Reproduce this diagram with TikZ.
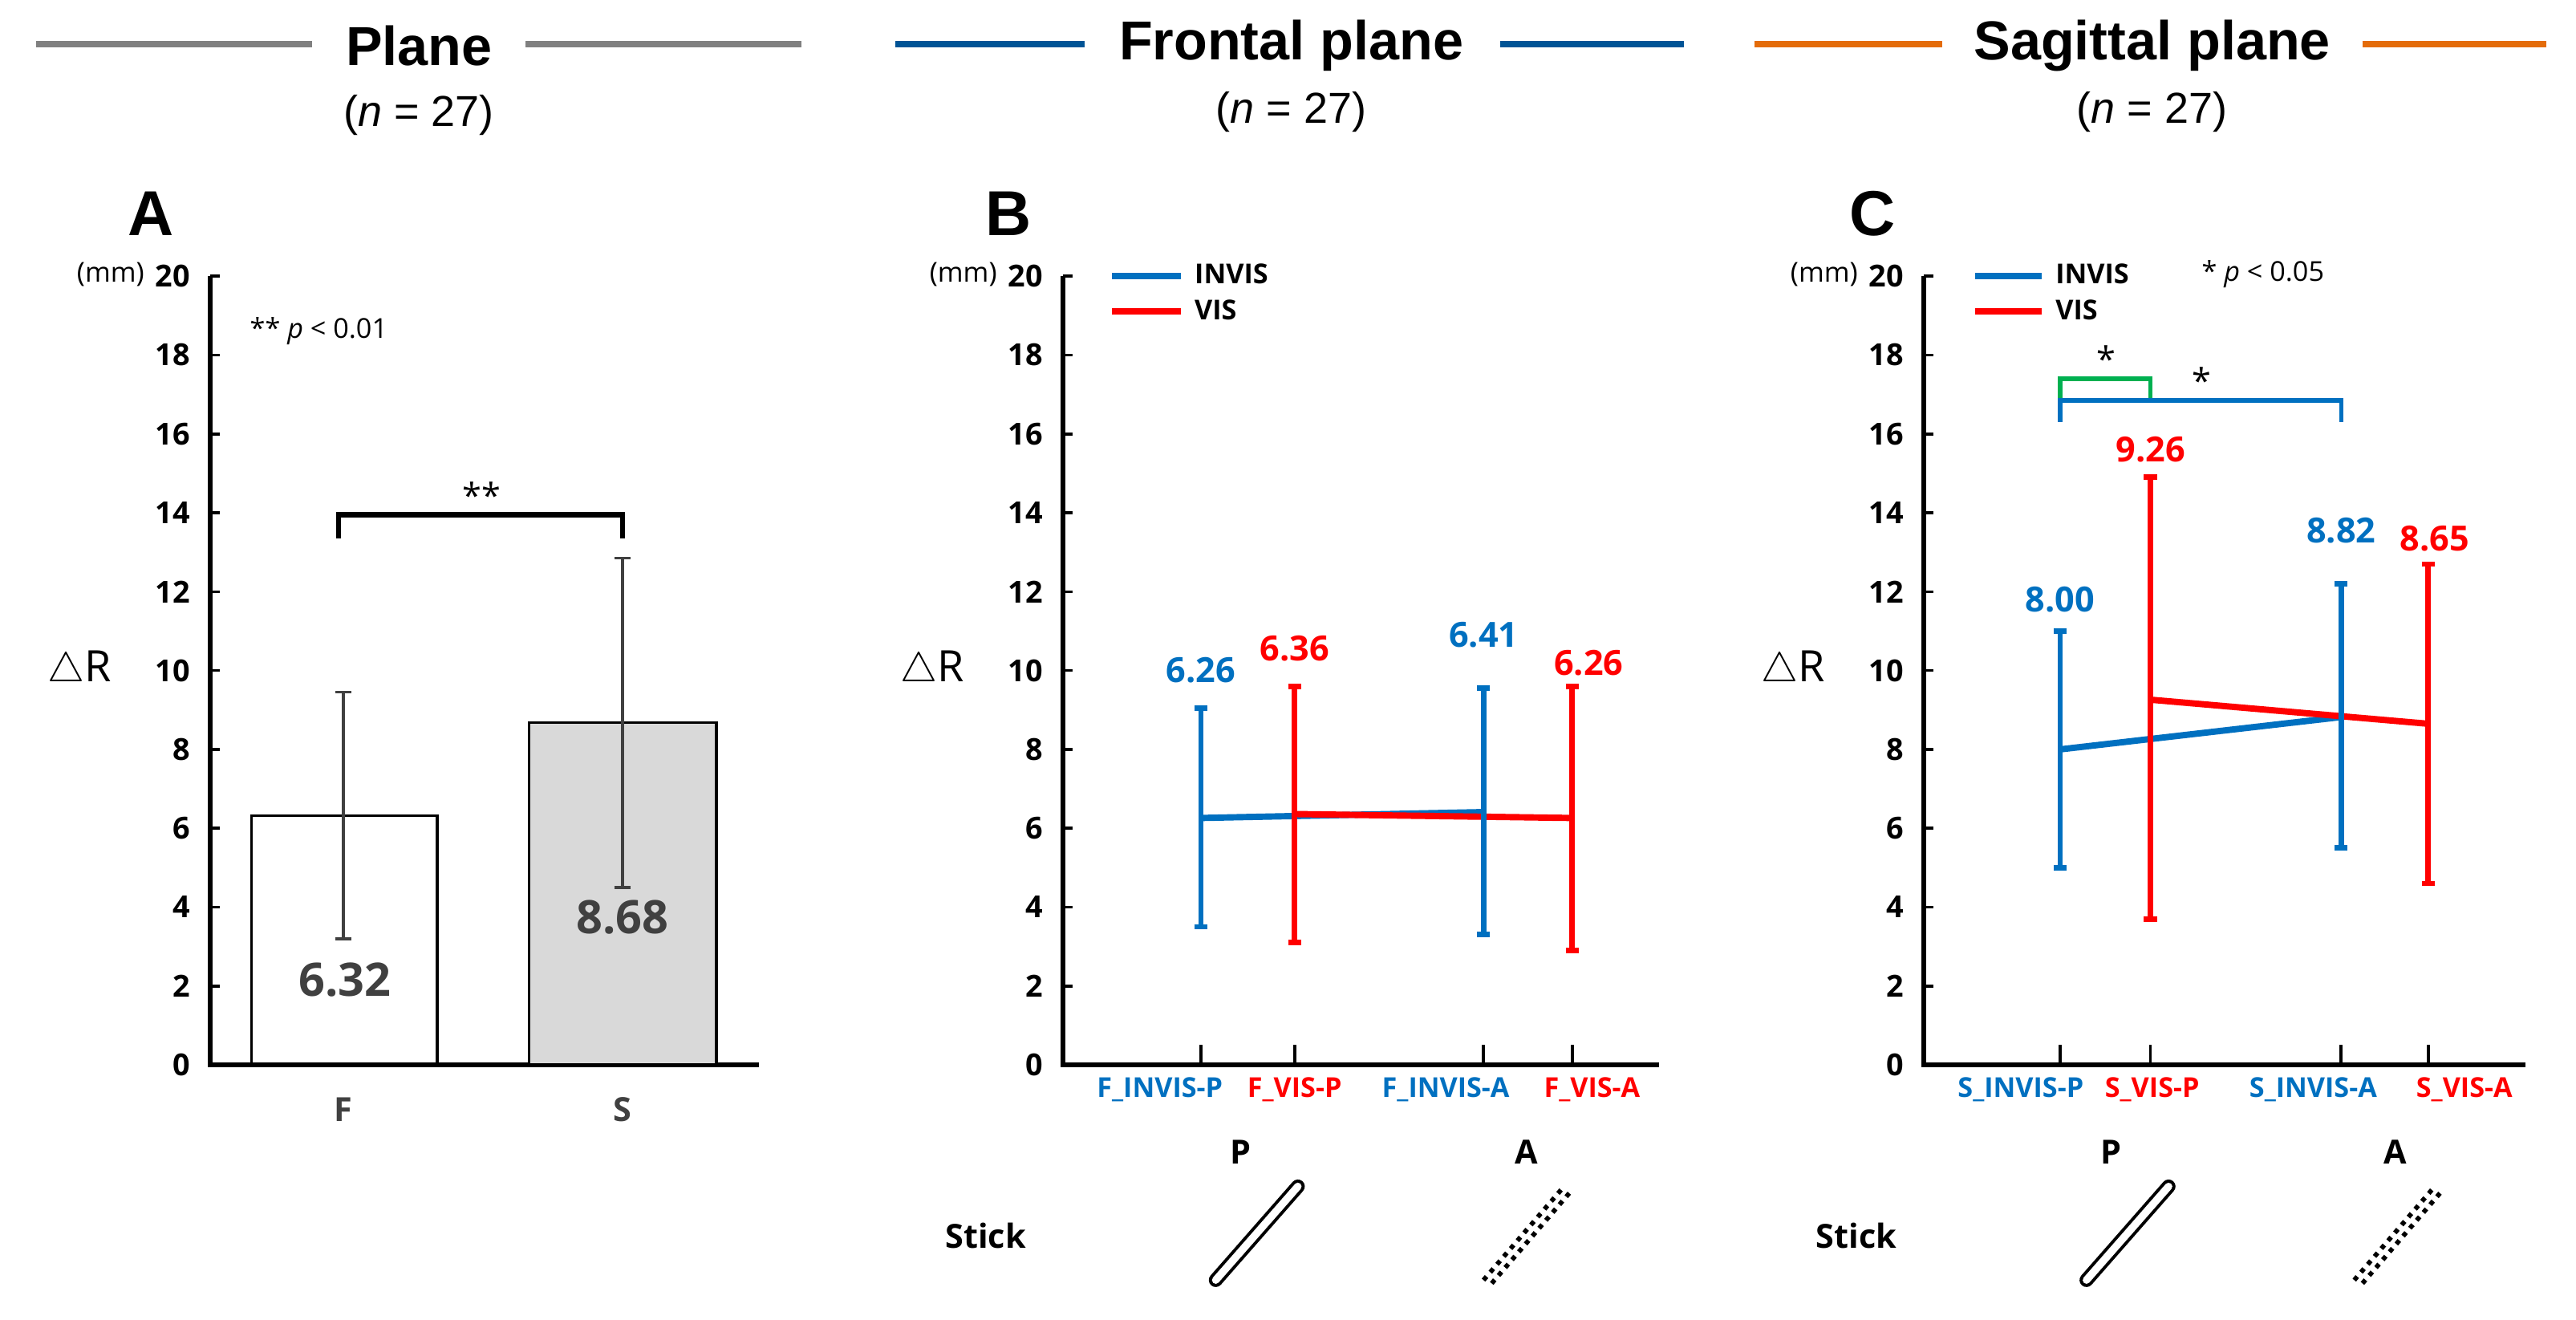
\documentclass[tikz,border=0pt]{standalone}
\usepackage{fontspec}
\setmainfont{Open Sans}
\newfontfamily\hd{Liberation Sans}
\definecolor{cb}{RGB}{0,112,192}
\definecolor{cr}{RGB}{255,0,0}
\definecolor{cg}{RGB}{0,176,80}
\definecolor{tdb}{RGB}{0,84,150}
\definecolor{tor}{RGB}{228,108,10}
\definecolor{vg}{RGB}{64,64,64}
\begin{document}
\begin{tikzpicture}[x=0.02cm,y=-0.02cm,
  ttl/.style={font=\hd\fontsize{19}{22}\selectfont\bfseries},
  sub/.style={font=\hd\fontsize{15}{18}\selectfont},
  pan/.style={font=\hd\fontsize{22}{26}\selectfont\bfseries},
  tick/.style={font=\fontsize{10.5}{12}\selectfont\bfseries,anchor=east},
  small/.style={font=\fontsize{9.5}{11}\selectfont},
  cat/.style={font=\fontsize{9.5}{11}\selectfont\bfseries},
  val/.style={font=\fontsize{12}{14}\selectfont\bfseries},
  big/.style={font=\fontsize{16}{19}\selectfont\bfseries,text=vg},
  lbl/.style={font=\fontsize{11.5}{13}\selectfont\bfseries},
  ax/.style={line width=1.7pt},
  dl/.style={line width=2.2pt},
  eb/.style={line width=1.9pt},
]
\useasboundingbox (0,0) rectangle (1568,803);
% titles
\draw[line width=2.2pt,gray] (22,27) -- (190,27) (320,27) -- (488,27);
\node[ttl] (t1) at (255,28) {Plane};
\node[sub] (n1) at (255,70) {(\textit{n} = 27)};
\draw[line width=2.2pt,tdb] (545,27) -- (660,27) (913,27) -- (1025,27);
\node[ttl] (t2) at (786,28) {Frontal plane};
\node[sub] (n2) at (786,68) {(\textit{n} = 27)};
\draw[line width=2.2pt,tor] (1068,27) -- (1182,27) (1438,27) -- (1550,27);
\node[ttl] (t3) at (1310,28) {Sagittal plane};
\node[sub] (n3) at (1310,68) {(\textit{n} = 27)};
\foreach \ox/\ex/\L/\lx in {128/462/A/92, 647/1010/B/614, 1171/1537/C/1140}{
  \node[pan] at (\lx,130) {\L};
  \begin{scope}[shift={(\ox,648)},x=0.02cm,y=0.48cm]
    \draw[ax] (0,20) -- (0,0) -- (\ex-\ox,0);
    \foreach \v in {0,2,...,20}{
      \draw[line width=1pt] (0,\v) -- (6,\v);
      \node[tick] at (-6,\v) {\v};
    }
    \node[small,anchor=east] at (-34,20.05) {(mm)};
    \node[font=\fontsize{15}{18}\selectfont,anchor=east] at (-54,10) {$\triangle$R};
  \end{scope}
}
% Panel A
\begin{scope}[shift={(128,648)},x=0.02cm,y=0.48cm]
  \draw[line width=1pt] (25,0) rectangle (138,6.32);
  \draw[line width=1pt,fill={rgb,255:red,217;green,217;blue,217}] (194,0) rectangle (308,8.68);
  \draw[line width=1pt,vg] (81,3.2) -- (81,9.45) (76,3.2) -- (86,3.2) (76,9.45) -- (86,9.45);
  \draw[line width=1pt,vg] (251,4.5) -- (251,12.85) (246,4.5) -- (256,4.5) (246,12.85) -- (256,12.85);
  \draw[line width=1.8pt] (78,13.35) -- (78,13.95) -- (251,13.95) -- (251,13.35);
  \node[font=\fontsize{12}{13}\selectfont] at (165,14.45) {**};
  \node[small,anchor=west] at (18,18.6) {** \textit{p} < 0.01};
  \node[big] at (82,2.15) {6.32};
  \node[big] at (251,3.75) {8.68};
  \node[lbl,text=vg] at (81,-1.13) {F};
  \node[lbl,text=vg] at (251,-1.13) {S};
\end{scope}
% Panel B
\begin{scope}[shift={(647,648)},x=0.02cm,y=0.48cm]
  \foreach \p in {84,141,256,310} \draw[line width=1pt] (\p,0) -- (\p,0.5);
  \draw[dl,cb] (30,20.0) -- (72,20.0); \node[cat,anchor=west] at (74,20.05) {INVIS};
  \draw[dl,cr] (30,19.1) -- (72,19.1); \node[cat,anchor=west] at (74,19.15) {VIS};
  \coordinate (b1) at (84,6.26); \coordinate (b2) at (141,6.36);
  \coordinate (b3) at (256,6.41); \coordinate (b4) at (310,6.26);
  \draw[dl,cb] (b1) -- (b3);
  \draw[dl,cr] (b2) -- (b4);
  \draw[eb,cb] (84,3.5) -- (84,9.05) (80,3.5) -- (88,3.5) (80,9.05) -- (88,9.05);
  \draw[eb,cb] (256,3.3) -- (256,9.55) (252,3.3) -- (260,3.3) (252,9.55) -- (260,9.55);
  \draw[eb,cr] (141,3.1) -- (141,9.6) (137,3.1) -- (145,3.1) (137,9.6) -- (145,9.6);
  \draw[eb,cr] (310,2.9) -- (310,9.6) (306,2.9) -- (314,2.9) (306,9.6) -- (314,9.6);
  \node[val,text=cb] at (84,10.0) {6.26};
  \node[val,text=cr] at (141,10.55) {6.36};
  \node[val,text=cb] at (256,10.9) {6.41};
  \node[val,text=cr] at (320,10.2) {6.26};
  \node[cat,text=cb] at (59,-0.63) {F\_INVIS-P};
  \node[cat,text=cr] at (141,-0.63) {F\_VIS-P};
  \node[cat,text=cb] at (233,-0.63) {F\_INVIS-A};
  \node[cat,text=cr] at (322,-0.63) {F\_VIS-A};
\end{scope}
% Panel C
\begin{scope}[shift={(1171,648)},x=0.02cm,y=0.48cm]
  \foreach \p in {83,138,254,307} \draw[line width=1pt] (\p,0) -- (\p,0.5);
  \draw[dl,cb] (31,20.0) -- (72,20.0); \node[cat,anchor=west] at (74,20.05) {INVIS};
  \draw[dl,cr] (31,19.1) -- (72,19.1); \node[cat,anchor=west] at (74,19.15) {VIS};
  \node[small,anchor=west] at (163,20.05) {* \textit{p} < 0.05};
  \draw[line width=1.4pt,cg] (83,16.8) -- (83,17.4) -- (138,17.4) -- (138,16.8);
  \node[font=\fontsize{12}{13}\selectfont] at (111,17.9) {*};
  \draw[line width=1.4pt,cb] (83,16.3) -- (83,16.85) -- (254,16.85) -- (254,16.3);
  \node[font=\fontsize{12}{13}\selectfont] at (169,17.35) {*};
  \coordinate (c1) at (83,8.00); \coordinate (c2) at (138,9.26);
  \coordinate (c3) at (254,8.82); \coordinate (c4) at (307,8.65);
  \draw[dl,cb] (c1) -- (c3);
  \draw[dl,cr] (c2) -- (c4);
  \draw[eb,cb] (83,5.0) -- (83,11.0) (79,5.0) -- (87,5.0) (79,11.0) -- (87,11.0);
  \draw[eb,cb] (254,5.5) -- (254,12.2) (250,5.5) -- (258,5.5) (250,12.2) -- (258,12.2);
  \draw[eb,cr] (138,3.7) -- (138,14.9) (134,3.7) -- (142,3.7) (134,14.9) -- (142,14.9);
  \draw[eb,cr] (307,4.6) -- (307,12.7) (303,4.6) -- (311,4.6) (303,12.7) -- (311,12.7);
  \node[val,text=cb] at (83,11.8) {8.00};
  \node[val,text=cr] at (138,15.6) {9.26};
  \node[val,text=cb] at (254,13.55) {8.82};
  \node[val,text=cr] at (311,13.35) {8.65};
  \node[cat,text=cb] at (59,-0.63) {S\_INVIS-P};
  \node[cat,text=cr] at (139,-0.63) {S\_VIS-P};
  \node[cat,text=cb] at (237,-0.63) {S\_INVIS-A};
  \node[cat,text=cr] at (329,-0.63) {S\_VIS-A};
\end{scope}
% sticks
\foreach \sx/\px/\ax/\ox in {600/755/929/740, 1130/1285/1458/1270}{
  \node[lbl] at (\sx,752) {Stick};
  \node[lbl] at (\px,701) {P};
  \node[lbl] at (\ax,701) {A};
  \draw[double=white,double distance=2.6pt,line width=1.1pt,line cap=round] (\ox,779) -- (\ox+50,722);
  \draw[line width=1.6pt,dotted] (\ox+163,779) -- (\ox+212,722);
  \draw[line width=1.6pt,dotted] (\ox+168,781) -- (\ox+217,724);
}
\end{tikzpicture}
\end{document}
